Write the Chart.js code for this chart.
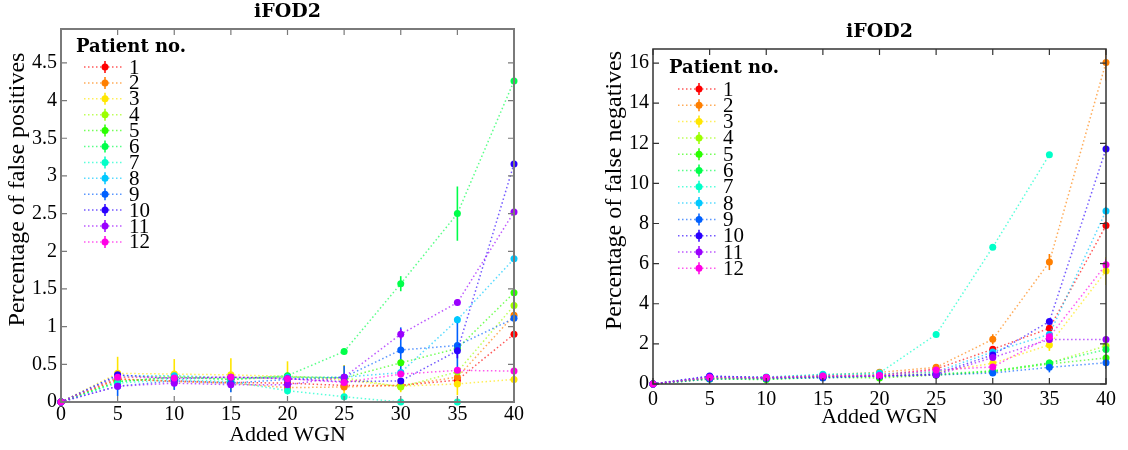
<!DOCTYPE html>
<html>
<head>
<meta charset="utf-8">
<title>iFOD2</title>
<script src="https://cdn.jsdelivr.net/npm/chart.js@4.4.1/dist/chart.umd.min.js"></script>
<style>
  body { margin: 0; background: #fff; }
  #wrap { position: relative; width: 1128px; height: 450px; }
  canvas { position: absolute; top: 0; }
</style>
</head>
<body>
<div id="wrap">
  <canvas id="fp" width="560" height="450" style="left:0"></canvas>
  <canvas id="fn" width="568" height="450" style="left:560px"></canvas>
</div>
<script>
// added white gaussian noise levels
const noise = [0, 5, 10, 15, 20, 25, 30, 35, 40];
const patients = ['1', '2', '3', '4', '5', '6', '7', '8', '9', '10', '11', '12'];
const colors = ['#ff0000', '#ff7f00', '#ffe600', '#9cff00', '#2bff00', '#00ff4a',
                '#00ffc8', '#00c8ff', '#0060ff', '#2a00ff', '#9a00ff', '#ff00e6'];

// false positives (%), one row per patient
const fpValues = [
  [0, 0.30, 0.28, 0.26, 0.25, 0.22, 0.22, 0.29, 0.90],
  [0, 0.31, 0.27, 0.25, 0.19, 0.20, 0.22, 0.33, 1.15],
  [0, 0.38, 0.37, 0.36, 0.34, 0.29, 0.21, 0.24, 0.30],
  [0, 0.33, 0.34, 0.32, 0.34, 0.32, 0.20, 0.40, 1.28],
  [0, 0.27, 0.33, 0.30, 0.33, 0.32, 0.52, 0.71, 1.45],
  [0, 0.27, 0.33, 0.30, 0.35, 0.67, 1.57, 2.50, 4.26],
  [0, 0.25, 0.30, 0.27, 0.15, 0.07, 0, 0, null],
  [0, 0.35, 0.35, 0.32, 0.33, 0.33, 0.39, 1.09, 1.90],
  [0, 0.21, 0.28, 0.25, 0.30, 0.33, 0.69, 0.75, 1.11],
  [0, 0.36, 0.31, 0.33, 0.31, 0.27, 0.28, 0.68, 3.16],
  [0, 0.21, 0.25, 0.23, 0.23, 0.33, 0.90, 1.32, 2.52],
  [0, 0.33, 0.32, 0.33, 0.31, 0.26, 0.37, 0.42, 0.41]
];
const fpErrors = [
  [0, 0.03, 0.03, 0.03, 0.03, 0.03, 0.03, 0.05, 0.08],
  [0, 0.03, 0.03, 0.03, 0.03, 0.05, 0.05, 0.06, 0.10],
  [0, 0.22, 0.20, 0.22, 0.20, 0.20, 0.08, 0.15, 0.12],
  [0, 0.03, 0.04, 0.03, 0.03, 0.03, 0.04, 0.05, 0.10],
  [0, 0.03, 0.04, 0.03, 0.04, 0.04, 0.05, 0.08, 0.12],
  [0, 0.03, 0.03, 0.03, 0.04, 0.04, 0.10, 0.36, 0.70],
  [0, 0.03, 0.03, 0.03, 0.05, 0.02, 0, 0, 0],
  [0, 0.03, 0.04, 0.03, 0.03, 0.03, 0.05, 0.05, 0.30],
  [0, 0.13, 0.12, 0.12, 0.08, 0.15, 0.30, 0.35, 0.45],
  [0, 0.03, 0.03, 0.03, 0.03, 0.03, 0.03, 0.10, 0.42],
  [0, 0.03, 0.03, 0.03, 0.03, 0.05, 0.07, 0.04, 0.35],
  [0, 0.03, 0.03, 0.03, 0.03, 0.03, 0.03, 0.03, 0.03]
];

// false negatives (%), one row per patient
const fnValues = [
  [0, 0.30, 0.30, 0.40, 0.45, 0.75, 1.73, 2.78, 7.90],
  [0, 0.35, 0.32, 0.45, 0.58, 0.83, 2.23, 6.08, 16.03],
  [0, 0.30, 0.30, 0.40, 0.45, 0.60, 1.03, 1.95, 5.63],
  [0, 0.25, 0.25, 0.35, 0.35, 0.45, 0.65, 1.05, 1.90],
  [0, 0.25, 0.22, 0.33, 0.30, 0.45, 0.60, 1.00, 1.30],
  [0, 0.28, 0.25, 0.35, 0.38, 0.50, 0.65, 1.05, 1.72],
  [0, 0.35, 0.35, 0.48, 0.55, 2.47, 6.82, 11.43, null],
  [0, 0.38, 0.33, 0.45, 0.50, 0.60, 1.60, 2.47, 8.63],
  [0, 0.25, 0.27, 0.30, 0.40, 0.45, 0.55, 0.83, 1.06],
  [0, 0.40, 0.32, 0.35, 0.40, 0.50, 1.45, 3.12, 11.72],
  [0, 0.35, 0.30, 0.38, 0.40, 0.45, 1.32, 2.22, 2.22],
  [0, 0.33, 0.33, 0.40, 0.42, 0.70, 0.85, 2.35, 5.95]
];
const fnErrors = [
  [0, 0.05, 0.05, 0.05, 0.05, 0.05, 0.10, 0.10, 0.20],
  [0, 0.05, 0.05, 0.05, 0.05, 0.10, 0.25, 0.40, 0.90],
  [0, 0.05, 0.05, 0.05, 0.05, 0.05, 0.15, 0.30, 0.70],
  [0, 0.05, 0.05, 0.05, 0.05, 0.05, 0.05, 0.10, 0.10],
  [0, 0.05, 0.05, 0.05, 0.05, 0.05, 0.05, 0.10, 0.10],
  [0, 0.05, 0.05, 0.05, 0.05, 0.05, 0.05, 0.10, 0.10],
  [0, 0.05, 0.05, 0.05, 0.05, 0.05, 0.05, 0.05, 0],
  [0, 0.05, 0.05, 0.05, 0.05, 0.05, 0.10, 0.10, 0.20],
  [0, 0.05, 0.05, 0.05, 0.05, 0.05, 0.05, 0.25, 0.30],
  [0, 0.05, 0.05, 0.05, 0.05, 0.05, 0.10, 0.10, 0.20],
  [0, 0.05, 0.05, 0.05, 0.05, 0.05, 0.10, 0.10, 0.10],
  [0, 0.05, 0.05, 0.05, 0.05, 0.05, 0.10, 0.10, 0.30]
];

const SERIF = '"Liberation Serif", "DejaVu Serif", serif';
const BOLD = '"DejaVu Serif", serif';

function alpha(hex, a) {
  const n = parseInt(hex.slice(1), 16);
  return `rgba(${n >> 16},${(n >> 8) & 255},${n & 255},${a})`;
}

// error bars underneath, then frame, inward ticks, titles and legend on top
const decor = {
  id: 'decor',
  beforeDatasetsDraw(chart) {
    const { ctx, chartArea: a, scales: { x, y } } = chart;
    ctx.save();
    ctx.beginPath();
    ctx.rect(a.left, a.top, a.right - a.left, a.bottom - a.top + 2);
    ctx.clip();
    ctx.lineWidth = 1.6;
    chart.data.datasets.forEach(ds => {
      ctx.strokeStyle = ds.pointBackgroundColor;
      ds.data.forEach((p, i) => {
        const e = ds.err[i];
        if (p.y == null || !e) return;
        const px = x.getPixelForValue(p.x);
        ctx.beginPath();
        ctx.moveTo(px, y.getPixelForValue(p.y - e));
        ctx.lineTo(px, y.getPixelForValue(p.y + e));
        ctx.stroke();
      });
    });
    ctx.restore();
  },
  afterDraw(chart, args, o) {
    const { ctx, chartArea: a, scales: { x, y } } = chart;
    ctx.save();
    ctx.strokeStyle = o.frameColor;
    ctx.lineWidth = o.frameWidth;
    ctx.strokeRect(a.left, a.top, a.right - a.left, a.bottom - a.top);
    ctx.lineWidth = 1.2;
    ctx.beginPath();
    x.ticks.forEach(t => {
      const px = x.getPixelForValue(t.value);
      ctx.moveTo(px, a.bottom); ctx.lineTo(px, a.bottom - 6);
      ctx.moveTo(px, a.top); ctx.lineTo(px, a.top + 6);
    });
    y.ticks.forEach(t => {
      const py = y.getPixelForValue(t.value);
      ctx.moveTo(a.left, py); ctx.lineTo(a.left + 6, py);
      ctx.moveTo(a.right, py); ctx.lineTo(a.right - 6, py);
    });
    ctx.stroke();

    // chart title
    ctx.fillStyle = '#000';
    ctx.font = 'bold 19px ' + BOLD;
    ctx.textAlign = 'center';
    ctx.textBaseline = 'middle';
    ctx.fillText(o.title, (a.left + a.right) / 2, o.titleY);

    // y axis title, sits a little above the axis centre
    ctx.save();
    ctx.font = '24px ' + SERIF;
    ctx.translate(o.yTitleX, (a.top + a.bottom) / 2 + o.yTitleShift);
    ctx.rotate(-Math.PI / 2);
    ctx.fillText(o.yTitle, 0, 0);
    ctx.restore();

    // legend
    const L = o.legend;
    ctx.textAlign = 'left';
    ctx.font = 'bold 18px ' + BOLD;
    ctx.fillText('Patient no.', L.x, L.titleY);
    ctx.font = '21px ' + SERIF;
    chart.data.datasets.forEach((ds, i) => {
      const ry = L.y0 + i * L.dy;
      ctx.strokeStyle = ds.borderColor;
      ctx.lineWidth = 1.5;
      ctx.setLineDash([1.5, 2.5]);
      ctx.beginPath();
      ctx.moveTo(L.lineX, ry); ctx.lineTo(L.lineX + 40, ry);
      ctx.stroke();
      ctx.setLineDash([]);
      ctx.strokeStyle = ds.pointBackgroundColor;
      ctx.beginPath();
      ctx.moveTo(L.lineX + 21, ry - 6); ctx.lineTo(L.lineX + 21, ry + 6);
      ctx.stroke();
      ctx.fillStyle = ds.pointBackgroundColor;
      ctx.beginPath();
      ctx.arc(L.lineX + 21, ry, 3.5, 0, Math.PI * 2);
      ctx.fill();
      ctx.fillStyle = '#000';
      ctx.fillText(ds.label, L.lineX + 45, ry + 1);
    });
    ctx.restore();
  }
};

function makeDatasets(values, errors) {
  return patients.map((p, i) => ({
    label: p,
    data: noise.map((n, j) => ({ x: n, y: values[i][j] })),
    err: errors[i],
    borderColor: alpha(colors[i], 0.65),
    borderWidth: 1.5,
    borderDash: [1.5, 2.5],
    pointBackgroundColor: colors[i],
    pointBorderWidth: 0,
    pointRadius: 3.5,
    clip: false,
    order: patients.length - i
  }));
}

function makeChart(id, values, errors, cfg) {
  const noGrid = { display: false, drawTicks: false };
  return new Chart(document.getElementById(id), {
    type: 'line',
    data: { datasets: makeDatasets(values, errors) },
    plugins: [decor],
    options: {
      responsive: false,
      animation: false,
      layout: { padding: cfg.padding },
      plugins: {
        legend: { display: false },
        tooltip: { enabled: false },
        decor: {
          title: 'iFOD2', titleY: cfg.titleY,
          yTitle: cfg.yTitle, yTitleX: cfg.yTitleX, yTitleShift: -26,
          frameColor: cfg.frameColor, frameWidth: cfg.frameWidth,
          legend: cfg.legend
        }
      },
      scales: {
        x: {
          type: 'linear', min: 0, max: 40,
          grid: noGrid, border: { display: false },
          ticks: { stepSize: 5, color: '#000', font: { family: SERIF, size: 20 }, padding: cfg.xPad, maxRotation: 0 },
          title: { display: true, text: 'Added WGN', color: '#000', font: { family: SERIF, size: 22 }, padding: { top: 0, bottom: 2 } },
          afterFit: s => { s.height = cfg.xHeight; }
        },
        y: {
          min: 0, max: cfg.yMax,
          grid: noGrid, border: { display: false },
          ticks: {
            stepSize: cfg.yStep, includeBounds: false, color: '#000',
            font: { family: SERIF, size: 20 }, padding: 4,
            callback: v => String(+v.toFixed(2))
          },
          afterFit: s => { s.width = cfg.yWidth; }
        }
      }
    }
  });
}

makeChart('fp', fpValues, fpErrors, {
  padding: { left: 2, right: 46, top: 29, bottom: 0 },
  yWidth: 59, xHeight: 48, xPad: 1,
  yMax: 4.95, yStep: 0.5,
  yTitle: 'Percentage of false positives', yTitleX: 18,
  titleY: 12, frameColor: '#7a7a7a', frameWidth: 2,
  legend: { x: 76, titleY: 47, y0: 67, dy: 15.9, lineX: 84 }
});

makeChart('fn', fnValues, fnErrors, {
  padding: { left: 40, right: 22, top: 49, bottom: 18 },
  yWidth: 53, xHeight: 48, xPad: 4,
  yMax: 16.7, yStep: 2,
  yTitle: 'Percentage of false negatives', yTitleX: 55,
  titleY: 32, frameColor: '#333', frameWidth: 1.5,
  legend: { x: 109, titleY: 68, y0: 89, dy: 16.3, lineX: 118 }
});
</script>
</body>
</html>
